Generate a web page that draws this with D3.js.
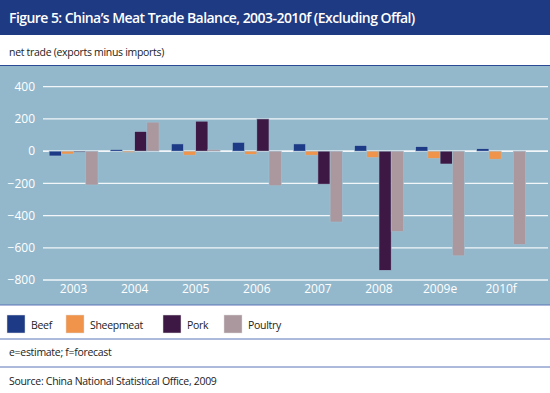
<!DOCTYPE html>
<html>
<head>
<meta charset="utf-8">
<script src="https://cdn.jsdelivr.net/npm/d3@7"></script>
<style>
  body { margin: 0; background: #fff; }
  svg text { font-family: "Open Sans", "Noto Sans", sans-serif; }
</style>
</head>
<body>
<div id="chart"></div>
<script>
var years = ["2003", "2004", "2005", "2006", "2007", "2008", "2009e", "2010f"];
var meats = ["Beef", "Sheepmeat", "Pork", "Poultry"];
var beef = [-30, 10, 45, 55, 45, 35, 28, 15];
var sheepmeat = [-18, -8, -25, -20, -25, -40, -45, -50];
var pork = [-6, 122, 186, 200, -205, -740, -80, 0];
var poultry = [-210, 180, 10, -215, -440, -500, -650, -580];
var yTicks = [400, 200, 0, -200, -400, -600, -800];
var colors = ["#1d3a86", "#f0944b", "#3e1844", "#ab979e"];

var series = [beef, sheepmeat, pork, poultry];
var data = years.map(function(y, i) {
    return { year: y, values: meats.map(function(m, j) { return { meat: m, value: series[j][i] }; }) };
});

var width = 550, height = 393;
var svg = d3.select("#chart")
  .append("svg")
    .attr("width", width)
    .attr("height", height);

// title bar
svg.append("rect").attr("x", 0).attr("y", 0).attr("width", width).attr("height", 35).attr("fill", "#1e3a82");
svg.append("text")
    .attr("x", 9).attr("y", 23)
    .attr("fill", "#fff")
    .style("font-size", "14px")
    .style("font-weight", "600")
    .style("letter-spacing", "-0.55px")
    .text("Figure 5: China\u2019s Meat Trade Balance, 2003-2010f (Excluding Offal)");

// small text helper
function note(x, yy, s) {
    return svg.append("text")
        .attr("x", x).attr("y", yy)
        .attr("fill", "#222")
        .style("font-size", "10.5px")
        .style("letter-spacing", "-0.3px")
        .text(s);
}
note(9, 56, "net trade (exports minus imports)");

// plot background
svg.append("rect").attr("x", 0).attr("y", 65).attr("width", width).attr("height", 240).attr("fill", "#93b8cc");
svg.append("line").attr("x1", 0).attr("x2", width).attr("y1", 65.5).attr("y2", 65.5).attr("stroke", "#2b4a95").attr("stroke-width", 1);
svg.append("line").attr("x1", 0).attr("x2", width).attr("y1", 305).attr("y2", 305).attr("stroke", "#5a74b8").attr("stroke-width", 1.2);

var x0 = d3.scaleBand().domain(years).range([43, 531.7]).paddingInner(0.2).paddingOuter(0.1);
var x1 = d3.scaleBand().domain(meats).range([0, x0.bandwidth()]);
var y = d3.scaleLinear().domain([-800, 400]).range([280, 86.7]);
var color = d3.scaleOrdinal().domain(meats).range(colors);

// grid
svg.append("g")
  .selectAll("line")
  .data(yTicks)
  .enter().append("line")
    .attr("x1", 43).attr("x2", 548)
    .attr("y1", function(d) { return y(d); })
    .attr("y2", function(d) { return y(d); })
    .attr("stroke", "#f2f6f8")
    .attr("stroke-width", function(d) { return d === 0 ? 1.6 : 1.3; });

// y axis labels
var yAxis = svg.append("g")
    .attr("transform", "translate(35,0)")
    .call(d3.axisLeft(y).tickValues(yTicks).tickSize(0).tickPadding(0).tickFormat(d3.format("d")));
yAxis.select(".domain").remove();
yAxis.selectAll("text")
    .attr("fill", "#fff")
    .style("font-size", "12px")
    .style("font-family", "'Open Sans', sans-serif");

// bars
svg.append("g")
  .selectAll("g")
  .data(data)
  .enter().append("g")
    .attr("transform", function(d) { return "translate(" + x0(d.year) + ",0)"; })
  .selectAll("rect")
  .data(function(d) { return d.values; })
  .enter().append("rect")
    .attr("x", function(d) { return x1(d.meat); })
    .attr("width", x1.bandwidth())
    .attr("y", function(d) { return y(Math.max(0, d.value)); })
    .attr("height", function(d) { return Math.abs(y(d.value) - y(0)); })
    .attr("fill", function(d) { return color(d.meat); })
    .attr("stroke", "#9fc0d2")
    .attr("stroke-width", 0.6);

// x axis labels
var xAxis = svg.append("g")
    .attr("transform", "translate(0,282)")
    .call(d3.axisBottom(x0).tickSize(0).tickPadding(2));
xAxis.select(".domain").remove();
xAxis.selectAll("text")
    .attr("fill", "#fff")
    .style("font-size", "12px")
    .style("font-family", "'Open Sans', sans-serif");

// legend
var legendX = [7, 66, 163, 224];
var legend = svg.append("g")
  .selectAll("g")
  .data(meats)
  .enter().append("g")
    .attr("transform", function(d, i) { return "translate(" + legendX[i] + ",315)"; });
legend.append("rect")
    .attr("width", 18).attr("height", 18)
    .attr("fill", function(d) { return color(d); })
    .attr("stroke", "#ddd").attr("stroke-width", 0.5);
legend.append("text")
    .attr("x", 24).attr("y", 13.5)
    .attr("fill", "#222")
    .style("font-size", "10.5px")
    .style("letter-spacing", "-0.3px")
    .text(function(d) { return d; });

svg.append("line").attr("x1", 0).attr("x2", width).attr("y1", 339).attr("y2", 339).attr("stroke", "#5a74b8").attr("stroke-width", 1);
note(9, 356, "e=estimate; f=forecast");
svg.append("line").attr("x1", 0).attr("x2", width).attr("y1", 367).attr("y2", 367).attr("stroke", "#5a74b8").attr("stroke-width", 1);
note(9, 385, "Source: China National Statistical Office, 2009");
</script>
</body>
</html>
